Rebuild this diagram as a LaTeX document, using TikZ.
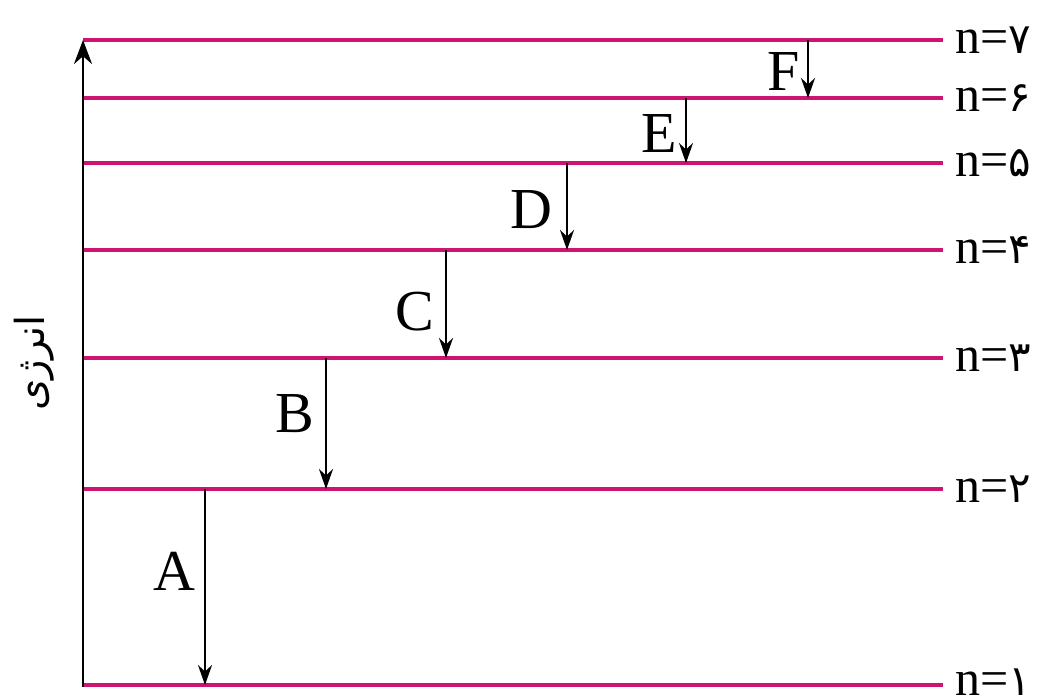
\documentclass[tikz,border=0pt]{standalone}
\usepackage{fontspec}
\setmainfont{Liberation Serif}
\newfontfamily\arabicfont[Script=Arabic]{DejaVu Sans}
\TeXXeTstate=1
\usetikzlibrary{arrows.meta}
\definecolor{levelc}{RGB}{205,20,115}
\tikzset{
  level/.style={draw=levelc, line width=4.2pt},
  trans/.style={draw=black, line width=2.4pt, -{Stealth[length=20pt,width=14pt]}},
  axisarr/.style={draw=black, line width=2.6pt, -{Stealth[length=24pt,width=18pt]}},
  nlab/.style={anchor=base west, inner sep=0pt, font=\fontsize{50}{50}\selectfont},
  tlab/.style={anchor=base east, inner sep=0pt, font=\fontsize{58}{58}\selectfont},
}
\newcommand{\pd}[1]{{\arabicfont\fontsize{42}{42}\selectfont #1}}
\begin{document}
\begin{tikzpicture}[x=1pt,y=-1pt]
\useasboundingbox (0,0) rectangle (1049,699);
% level line endpoints
\foreach \n/\yy in {7/40,6/98,5/163,4/250,3/358,2/489,1/685}{
  \coordinate (L\n) at (83,\yy);
  \coordinate (R\n) at (943,\yy);
}
\foreach \n in {1,...,7}{ \draw[level] (L\n) -- (R\n); }
% labels
\node[nlab] (n7) at (955,53) {n=\pd{۷}};
\node[nlab] (n6) at (955,111) {n=\pd{۶}};
\node[nlab] (n5) at (955,176) {n=\pd{۵}};
\node[nlab] (n4) at (955,263) {n=\pd{۴}};
\node[nlab] (n3) at (955,371) {n=\pd{۳}};
\node[nlab] (n2) at (955,502) {n=\pd{۲}};
\node[nlab] (n1) at (955,695) {n=\pd{۱}};
% axis
\coordinate (ax0) at (83,687);
\coordinate (ax1) at (83,40);
\draw[axisarr] (ax0) -- (ax1);
\node[rotate=90, inner sep=0pt, font=\arabicfont\fontsize{40}{40}\selectfont] (elab) at (34,363) {\beginR انرژی\endR};
% transitions
\coordinate (Ft) at (808,40);  \coordinate (Fb) at (808,98);
\coordinate (Et) at (686,98);  \coordinate (Eb) at (686,163);
\coordinate (Dt) at (567,163); \coordinate (Db) at (567,250);
\coordinate (Ct) at (446,250); \coordinate (Cb) at (446,358);
\coordinate (Bt) at (326,358); \coordinate (Bb) at (326,489);
\coordinate (At) at (205,489); \coordinate (Ab) at (205,685);
\foreach \t in {F,E,D,C,B,A}{ \draw[trans] (\t t) -- (\t b); }
\node[tlab] (lF) at (800,90) {F};
\node[tlab] (lE) at (677,152) {E};
\node[tlab] (lD) at (553,228) {D};
\node[tlab] (lC) at (434,330) {C};
\node[tlab] (lB) at (314,432) {B};
\node[tlab] (lA) at (196,590) {A};
\end{tikzpicture}
\end{document}
